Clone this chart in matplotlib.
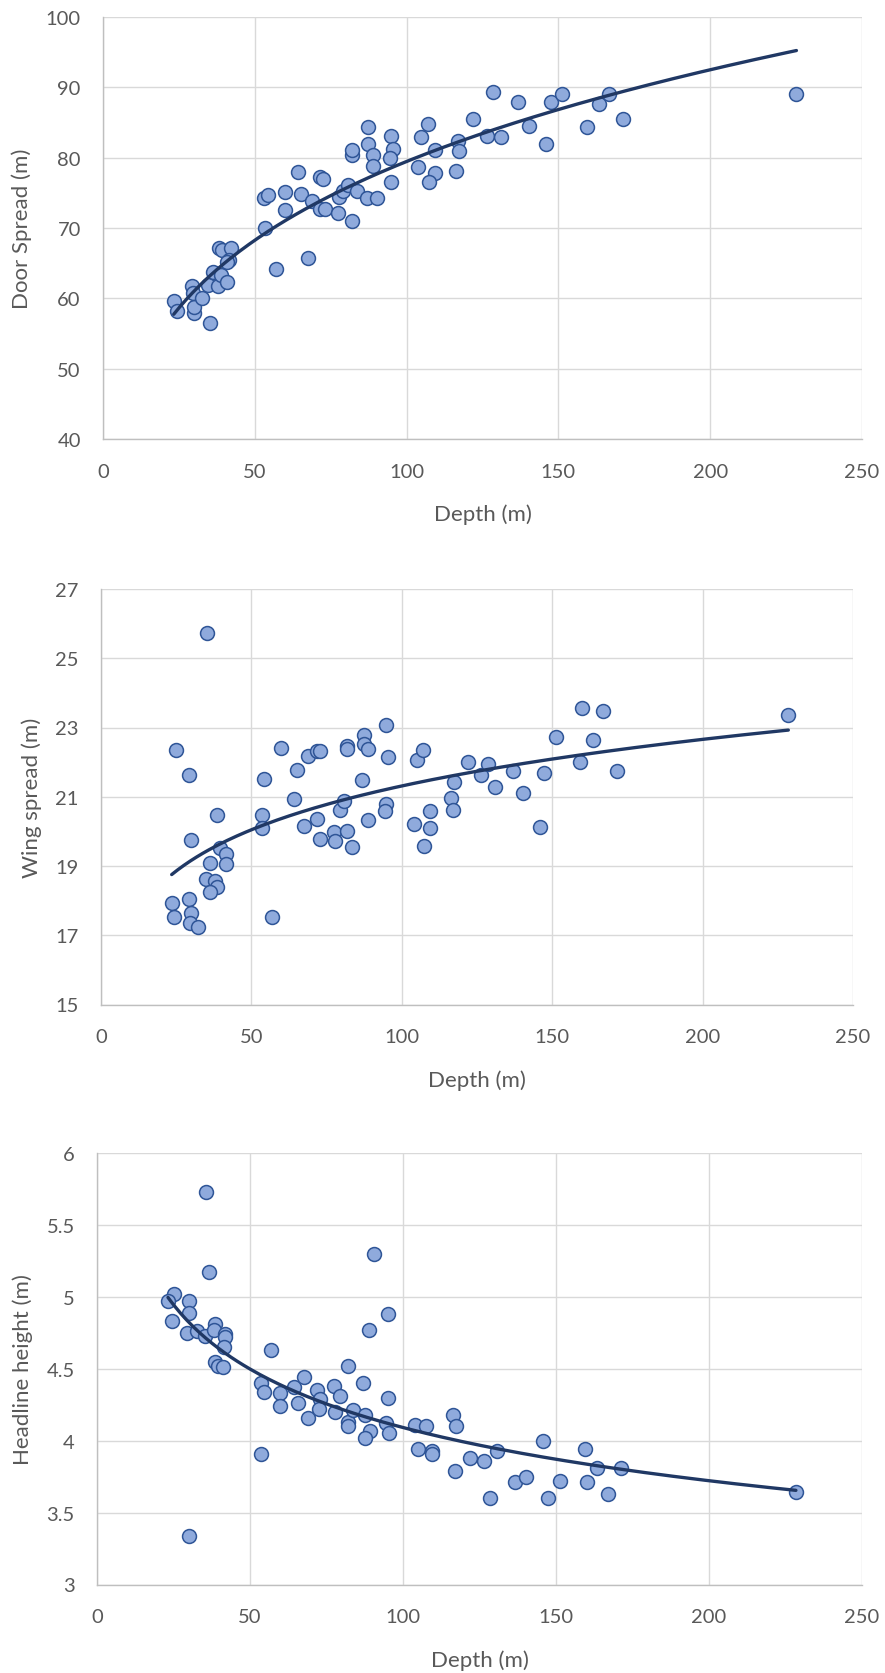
import matplotlib
matplotlib.use("Agg")
import matplotlib.pyplot as plt
import numpy as np

plt.rcParams['font.family'] = ['Lato', 'DejaVu Sans']

# panel 1 - door spread
depth_door = [23.3, 24.4, 29.9, 29.9, 29.3, 29.7, 32.6, 35.3, 34.6, 36.3,
              37.9, 38.8, 40.9, 38.2, 39.3, 42.0, 41.5, 40.7, 53.3, 53.1,
              54.4, 56.9, 59.9, 60.0, 64.3, 65.3, 69.0, 67.4, 71.6, 72.3,
              71.6, 73.0, 77.4, 77.8, 79.1, 80.8, 83.5, 82.0, 81.9, 81.9,
              86.9, 90.3, 87.4, 87.4, 88.8, 88.8, 94.8, 95.4, 94.5, 94.8,
              103.8, 104.8, 106.9, 109.3, 109.3, 107.4, 116.4, 116.8, 117.3, 121.8,
              126.4, 128.4, 131.0, 136.8, 140.3, 145.8, 147.4, 151.3, 159.5, 163.3,
              166.8, 171.3, 228.4]
door_spread = [59.6, 58.25, 57.9, 58.8, 61.7, 60.8, 60.0, 56.5, 61.9, 63.7,
               61.7, 63.3, 62.3, 67.2, 66.9, 67.1, 65.5, 65.2, 70.0, 74.2,
               74.7, 64.2, 75.1, 72.6, 78.0, 74.9, 73.8, 65.7, 77.3, 76.9,
               72.7, 72.7, 72.2, 74.4, 75.3, 76.1, 75.3, 71.0, 80.4, 81.1,
               74.3, 74.2, 84.3, 82.0, 80.4, 78.8, 83.1, 81.2, 79.9, 76.6,
               78.7, 83.0, 84.8, 81.1, 77.8, 76.6, 78.1, 82.3, 80.9, 85.5,
               83.1, 89.4, 82.9, 87.9, 84.5, 81.9, 87.9, 89.0, 84.3, 87.6,
               89.1, 85.5, 89.0]

# panel 2 - wing spread
depth_wing = [35.4, 24.9, 29.2, 38.4, 29.9, 39.5, 41.7, 41.7, 36.4, 34.9,
              37.9, 38.4, 36.4, 23.5, 29.3, 24.4, 29.9, 29.6, 32.4, 56.8,
              53.4, 53.4, 54.3, 59.8, 64.3, 65.3, 67.5, 68.9, 71.9, 72.8,
              71.9, 72.8, 77.5, 77.9, 79.4, 80.7, 81.9, 83.5, 81.9, 81.9,
              87.4, 87.4, 88.9, 86.9, 88.9, 94.9, 95.5, 94.7, 94.4,
              103.9, 105.0, 107.0, 107.5, 109.4, 109.4, 116.4, 116.9, 117.4, 121.9,
              126.4, 128.5, 130.9, 137.0, 140.4, 146.0, 147.3, 151.4, 159.4, 159.9,
              163.5, 167.0, 171.4, 228.5]
wing_spread = [25.73, 22.34, 21.63, 20.46, 19.74, 19.53, 19.34, 19.07, 19.10, 18.63,
               18.57, 18.39, 18.25, 17.94, 18.04, 17.53, 17.63, 17.35, 17.24, 17.54,
               20.48, 20.09, 21.52, 22.41, 20.93, 21.76, 20.15, 22.17, 22.32, 22.32,
               20.35, 19.78, 19.98, 19.72, 20.62, 20.88, 20.01, 19.55, 22.48, 22.39,
               22.78, 22.53, 22.38, 21.47, 20.34, 23.06, 22.14, 20.78, 20.59,
               20.22, 22.07, 22.35, 19.57, 20.09, 20.59, 20.95, 20.62, 21.42, 21.99,
               21.64, 21.96, 21.29, 21.75, 21.11, 20.14, 21.69, 22.72, 21.99, 23.55,
               22.63, 23.49, 21.75, 23.37]

# panel 3 - headline height
depth_head = [35.5, 36.5, 25.1, 23.2, 30.1, 30.1, 24.5, 29.4, 32.7, 35.4,
              38.5, 38.1, 41.9, 41.9, 41.4, 38.5, 39.5, 41.2, 57.0, 53.5,
              54.5, 59.9, 59.9, 64.5, 65.6, 67.5, 69.0, 71.9, 73.0, 72.5,
              77.6, 79.5, 77.9, 81.9, 81.9, 81.9, 83.7, 86.9, 87.7, 89.1,
              87.5, 90.5, 89.0, 95.0, 95.0, 94.6, 95.5, 53.5, 30.0,
              104.0, 107.5, 104.9, 109.5, 109.5, 116.3, 117.4, 116.9, 121.8, 126.5,
              130.8, 128.5, 136.7, 140.3, 145.9, 147.4, 151.4, 159.5, 160.0, 163.5,
              166.9, 171.4, 228.4]
headline = [5.73, 5.17, 5.02, 4.97, 4.97, 4.89, 4.83, 4.75, 4.76, 4.73,
            4.81, 4.77, 4.74, 4.72, 4.65, 4.55, 4.52, 4.51, 4.63, 4.40,
            4.34, 4.33, 4.24, 4.37, 4.26, 4.44, 4.16, 4.35, 4.29, 4.22,
            4.38, 4.31, 4.20, 4.52, 4.13, 4.10, 4.21, 4.40, 4.18, 4.07,
            4.02, 5.30, 4.77, 4.88, 4.30, 4.12, 4.05, 3.91, 3.34,
            4.11, 4.10, 3.94, 3.93, 3.91, 4.18, 4.10, 3.79, 3.88, 3.86,
            3.93, 3.60, 3.71, 3.75, 4.00, 3.60, 3.72, 3.94, 3.71, 3.81,
            3.63, 3.81, 3.64]

W, H = 885, 1674
fig = plt.figure(figsize=(W / 100, H / 100), dpi=100)

# axes boxes in pixels: left, top, right, bottom
panels = [
    (depth_door, door_spread, "Door Spread (m)", (40, 100), np.arange(40, 101, 10),
     (103, 18, 862, 440), 22),
    (depth_wing, wing_spread, "Wing spread (m)", (15, 27), np.arange(15, 28, 2),
     (101, 590, 853, 1005.5), 32),
    (depth_head, headline, "Headline height (m)", (3, 6), np.arange(3, 6.01, 0.5),
     (97, 1154, 862, 1585.5), 23),
]

grid_c = '#D9D9D9'
text_c = '#595959'

for xs, ys, ylab, ylim, yticks, box, ylab_x in panels:
    l, t, r, b = box
    ax = fig.add_axes([l / W, 1 - b / H, (r - l) / W, (b - t) / H])
    xs = np.array(xs)
    ys = np.array(ys)

    ax.scatter(xs, ys, s=100, color='#8FAADC', edgecolor='#2F5597',
               linewidth=1.1, zorder=3)

    # power trendline (fit in log-log space)
    coef = np.polyfit(np.log(xs), np.log(ys), 1)
    fx = np.linspace(xs.min(), xs.max(), 200)
    ax.plot(fx, np.exp(coef[1]) * fx ** coef[0], color='#203864', lw=2.4,
            solid_capstyle='round', zorder=4)

    ax.set_xlim(0, 250)
    ax.set_ylim(*ylim)
    ax.set_xticks(np.arange(0, 251, 50))
    ax.set_yticks(yticks)
    ax.set_yticklabels(['%g' % v for v in yticks])
    ax.grid(True, color=grid_c, lw=1.0)
    ax.set_axisbelow(True)
    for s in ['top', 'right']:
        ax.spines[s].set_visible(False)
    for s in ['left', 'bottom']:
        ax.spines[s].set_color('#BFBFBF')
        ax.spines[s].set_linewidth(1.0)
    ax.tick_params(length=0, labelsize=14.5, colors=text_c)
    ax.tick_params(axis='x', pad=17)
    ax.tick_params(axis='y', pad=16)

    ax.set_xlabel("Depth (m)", fontsize=16, color=text_c, va='center')
    ax.xaxis.set_label_coords(0.5, -75 / (b - t))
    ax.set_ylabel(ylab, fontsize=16, color=text_c, va='center')
    ax.yaxis.set_label_coords((ylab_x - l) / (r - l), 0.5)

fig.savefig("out.png", dpi=100)
